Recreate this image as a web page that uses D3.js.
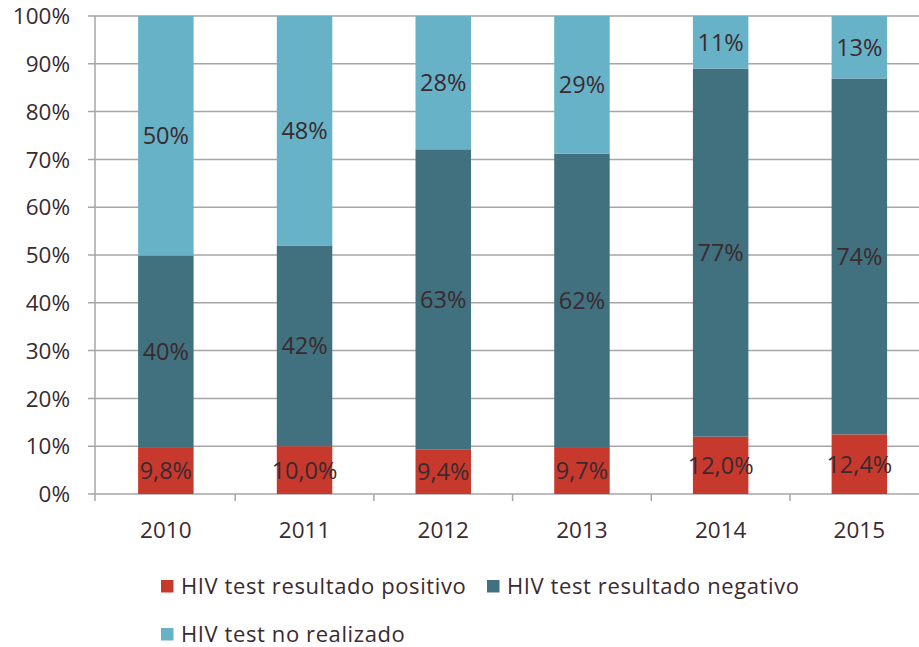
<!DOCTYPE html>
<html><head><meta charset="utf-8">
<script src="https://cdn.jsdelivr.net/npm/d3@7"></script>
<style>body{margin:0;background:#fff;} svg{display:block;}</style>
</head><body>
<svg id="c" width="919" height="647"></svg>
<script>
const years = ["2010","2011","2012","2013","2014","2015"];
const positivo = [9.8, 10.0, 9.4, 9.7, 12.0, 12.4];
const negativo = [40, 42, 63, 62, 77, 74];
const noRealizado = [50, 48, 28, 29, 11, 13];
const positivoLabels = ["9,8%","10,0%","9,4%","9,7%","12,0%","12,4%"];
const seriesNames = ["HIV test resultado positivo","HIV test resultado negativo","HIV test no realizado"];
const yTicks = [0,10,20,30,40,50,60,70,80,90,100];

const colors = ["#C8392D","#41707E","#67B2C7"];
const textCol = "#3a2a2f";
const font = "'Open Sans', sans-serif";

const svg = d3.select("#c");
const x0 = 96.5, step = 138.7;
const x = d3.scaleBand().domain(years).range([x0, x0+step*6]).paddingInner(0.6).paddingOuter(0.3);
const y = d3.scaleLinear().domain([0,1]).range([494,16]);

const rows = years.map((yr,i)=>({year:yr, p:positivo[i], n:negativo[i], r:noRealizado[i]}));
const stack = d3.stack().keys(["p","n","r"]).offset(d3.stackOffsetExpand);
const st = stack(rows);

// gridlines
svg.append("g").selectAll("line").data(yTicks).join("line")
  .attr("x1",88).attr("x2",919)
  .attr("y1",d=>y(d/100)).attr("y2",d=>y(d/100))
  .attr("stroke","#a6a6a6").attr("stroke-width",1.5);

// y labels
svg.append("g").selectAll("text").data(yTicks).join("text")
  .attr("x",70).attr("y",d=>y(d/100)).attr("dy","0.36em")
  .attr("text-anchor","end").attr("font-family",font).attr("font-size",22.5)
  .attr("fill",textCol).text(d=>d+"%");

// y axis line
svg.append("line").attr("x1",95).attr("x2",95).attr("y1",16).attr("y2",501)
  .attr("stroke","#a6a6a6").attr("stroke-width",1.5);
// x tick marks at category boundaries
svg.append("g").selectAll("line").data(years.slice(1)).join("line")
  .attr("x1",d=>x(d)-x.step()*0.3).attr("x2",d=>x(d)-x.step()*0.3).attr("y1",494).attr("y2",501)
  .attr("stroke","#a6a6a6").attr("stroke-width",1.5);

// bars
const labelSets = [positivoLabels, negativo.map(v=>v+"%"), noRealizado.map(v=>v+"%")];
st.forEach((s,k)=>{
  const g = svg.append("g");
  g.selectAll("rect").data(s).join("rect")
    .attr("x",d=>x(d.data.year)).attr("width",x.bandwidth())
    .attr("y",d=>y(d[1])).attr("height",d=>y(d[0])-y(d[1]))
    .attr("fill",colors[k]);
  g.selectAll("text").data(s).join("text")
    .attr("x",d=>x(d.data.year)+x.bandwidth()/2)
    .attr("y",d=>(y(d[0])+y(d[1]))/2).attr("dy","0.36em")
    .attr("text-anchor","middle").attr("font-family",font).attr("font-size",23.5)
    .attr("fill",textCol).text((d,i)=>labelSets[k][i]);
});

// x labels
svg.append("g").selectAll("text").data(years).join("text")
  .attr("x",d=>x(d)+x.bandwidth()/2).attr("y",530).attr("dy","0.36em")
  .attr("text-anchor","middle").attr("font-family",font).attr("font-size",22.5)
  .attr("fill",textCol).text(d=>d);

// legend
const legPos = [[161,586],[487,586],[161,634]];
seriesNames.forEach((nm,k)=>{
  const [lx,ly] = legPos[k];
  svg.append("rect").attr("x",lx).attr("y",ly-6).attr("width",12.5).attr("height",12.5).attr("fill",colors[k]);
  svg.append("text").attr("x",lx+20).attr("y",ly).attr("dy","0.36em")
    .attr("font-family",font).attr("font-size",22).attr("fill",textCol)
    .attr("letter-spacing",0.6).text(nm);
});
</script>
</body></html>
